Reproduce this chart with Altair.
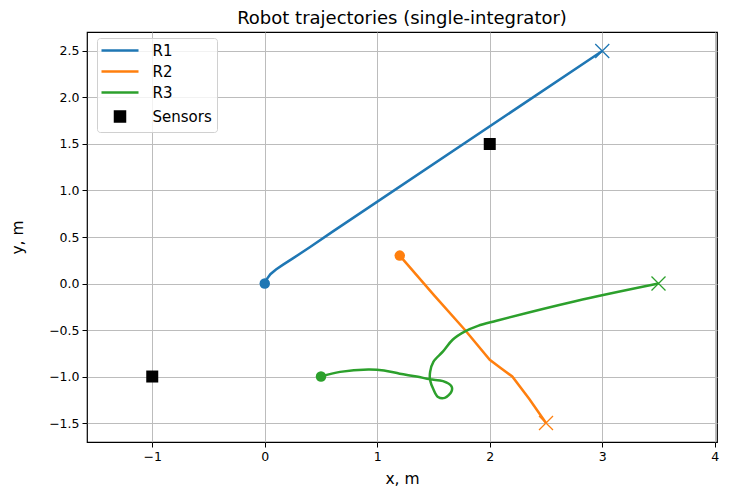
import altair as alt
import pandas as pd

# ---- data ----
robots = ["R1", "R2", "R3"]
colors = ["#1f77b4", "#ff7f0e", "#2ca02c"]

r1_x = [0.00, 0.02, 0.05, 0.10, 0.16, 0.25, 0.40, 0.60, 3.00]
r1_y = [0.00, 0.05, 0.10, 0.15, 0.20, 0.27, 0.39, 0.555, 2.50]

r2_x = [1.20, 1.50, 1.78, 2.00, 2.10, 2.20, 2.35, 2.50]
r2_y = [0.30, -0.12, -0.50, -0.82, -0.91, -1.00, -1.24, -1.50]

r3_x = [0.50, 0.67, 0.92, 1.06, 1.20, 1.35, 1.47, 1.585, 1.66, 1.66, 1.60, 1.54,
        1.50, 1.47, 1.47, 1.50, 1.585, 1.67, 1.78, 1.895, 2.06, 2.76, 3.50]
r3_y = [-1.00, -0.95, -0.925, -0.935, -0.97, -1.00, -1.03, -1.05, -1.105, -1.16,
        -1.23, -1.22, -1.14, -1.04, -0.95, -0.84, -0.73, -0.605, -0.515, -0.455,
        -0.40, -0.19, 0.00]

sensor_x = [2.0, -1.0]
sensor_y = [1.5, -1.0]

x_ticks = [-1, 0, 1, 2, 3, 4]
y_ticks = [-1.5, -1.0, -0.5, 0.0, 0.5, 1.0, 1.5, 2.0, 2.5]

# ---- tables ----
paths = {"R1": (r1_x, r1_y), "R2": (r2_x, r2_y), "R3": (r3_x, r3_y)}
rows = []
for r, (xs_, ys_) in paths.items():
    for i, (a, b) in enumerate(zip(xs_, ys_)):
        rows.append({"robot": r, "x": a, "y": b, "order": i})
traj = pd.DataFrame(rows)

starts = pd.DataFrame([{"robot": r, "x": paths[r][0][0], "y": paths[r][1][0],
                        "col": c} for r, c in zip(robots, colors)])
ends = pd.DataFrame([{"robot": r, "x": paths[r][0][-1], "y": paths[r][1][-1],
                      "col": c} for r, c in zip(robots, colors)])
sensors = pd.DataFrame({"robot": ["Sensors"] * len(sensor_x), "x": sensor_x, "y": sensor_y})

domain = robots + ["Sensors"]
line_sym = "M-3.7,0L3.7,0"
color_scale = alt.Scale(domain=domain, range=colors + ["#000000"])
shape_scale = alt.Scale(domain=domain, range=[line_sym, line_sym, line_sym, "square"])

xs = alt.X("x:Q", scale=alt.Scale(domain=[-1.58, 4.02], nice=False, zero=False),
           axis=alt.Axis(values=x_ticks, title="x, m", format="d",
                         labelExpr="replace(datum.label, '-', '\u2212')"))
ys = alt.Y("y:Q", scale=alt.Scale(domain=[-1.704, 2.704], nice=False, zero=False),
           axis=alt.Axis(values=y_ticks, title="y, m", format=".1f",
                         labelExpr="replace(datum.label, '-', '\u2212')"))

legend = alt.Legend(title=None, orient="none", legendX=10, legendY=6,
                    fillColor="rgba(255,255,255,0.8)", strokeColor="#d0d0d0",
                    cornerRadius=3, padding=5, labelOffset=25, rowPadding=5,
                    symbolOffset=10.5, symbolSize=100,
                    labelFontSize=15, labelFont="DejaVu Sans", labelColor="#000000",
                    symbolStrokeWidth=2.5, symbolFillColor="#000000")

lines12 = alt.Chart(traj).transform_filter(alt.datum.robot != "R3").mark_line(
    strokeWidth=2.5).encode(
    x=xs, y=ys, order="order:Q",
    color=alt.Color("robot:N", scale=color_scale, legend=legend))

lines3 = alt.Chart(traj).transform_filter(alt.datum.robot == "R3").mark_line(
    strokeWidth=2.5, interpolate="catmull-rom").encode(
    x=xs, y=ys, order="order:Q",
    color=alt.Color("robot:N", scale=color_scale, legend=legend))

sens = alt.Chart(sensors).mark_point(filled=True, opacity=1, size=144).encode(
    x=xs, y=ys,
    color=alt.Color("robot:N", scale=color_scale, legend=legend),
    shape=alt.Shape("robot:N", scale=shape_scale, legend=legend))

start_pts = alt.Chart(starts).mark_circle(size=110, opacity=1).encode(
    x=xs, y=ys, color=alt.Color("col:N", scale=None))

end_pts = alt.Chart(ends).mark_point(
    shape="M-1,-1L1,1M-1,1L1,-1", size=196, strokeWidth=1.3, filled=False, opacity=1).encode(
    x=xs, y=ys, stroke=alt.Stroke("col:N", scale=None))

chart = alt.layer(lines12, lines3, sens, start_pts, end_pts).properties(
    width=630, height=410,
    title=alt.Title("Robot trajectories (single-integrator)", fontSize=18,
                    font="DejaVu Sans", fontWeight="normal", color="#000000",
                    anchor="middle", offset=4),
    autosize=alt.AutoSizeParams(type="none"),
    padding={"left": 79, "top": 24, "right": 5, "bottom": 45},
).configure_view(stroke="#000000", strokeWidth=1.2).configure_axis(
    grid=True, gridColor="#bcbcbc", gridWidth=1, domain=False,
    tickColor="#000000", tickSize=5, tickWidth=1,
    labelFont="DejaVu Sans", labelFontSize=12.5, labelColor="#000000", labelPadding=3,
    titleFont="DejaVu Sans", titleFontSize=15.5, titleFontWeight="normal", titleColor="#000000",
).configure_axisX(titlePadding=9).configure_axisY(titlePadding=23)

chart.save("out.html", embed_options={"renderer": "svg", "actions": False})
